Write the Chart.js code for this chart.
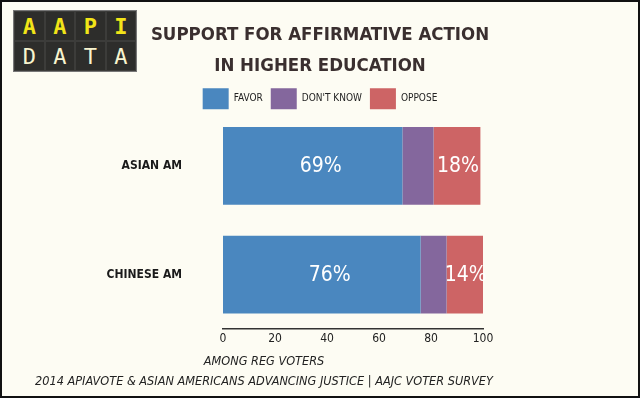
<!DOCTYPE html>
<html>
<head>
<meta charset="utf-8">
<script src="https://cdn.jsdelivr.net/npm/chart.js@4.4.1/dist/chart.umd.min.js"></script>
<style>
  html, body { margin:0; padding:0; background:#fdfcf3; }
  #wrap { position:relative; width:640px; height:398px; }
  #frame { position:absolute; left:0; top:0; width:640px; height:398px; box-sizing:border-box; border:2px solid #111; pointer-events:none; }
  #logo { position:absolute; left:13px; top:10px; width:124px; height:62px; background:#2d2d2b; border:1px solid #777;
          display:grid; grid-template-columns:repeat(4,1fr); grid-template-rows:repeat(2,1fr); box-sizing:border-box; }
  #logo span { display:flex; align-items:center; justify-content:center; border:1px solid #3c3c3a;
               font-family:'DejaVu Sans Mono', monospace; font-size:22px; }
  #logo .y { color:#f2e418; font-weight:bold; }
  #logo .c { color:#f8f4cf; }
</style>
</head>
<body>
<div id="wrap">
  <canvas id="chart" width="640" height="398"></canvas>
  <div id="logo">
    <span class="y">A</span><span class="y">A</span><span class="y">P</span><span class="y">I</span>
    <span class="c">D</span><span class="c">A</span><span class="c">T</span><span class="c">A</span>
  </div>
  <div id="frame"></div>
</div>
<script>
var groups = ['ASIAN AM', 'CHINESE AM'];
var favor = [69, 76];
var dontKnow = [12, 10];
var oppose = [18, 14];
var xTicks = [0, 20, 40, 60, 80, 100];
var titleLines = ['SUPPORT FOR AFFIRMATIVE ACTION', 'IN HIGHER EDUCATION'];
var footLines = ['AMONG REG VOTERS', '2014 APIAVOTE & ASIAN AMERICANS ADVANCING JUSTICE | AAJC VOTER SURVEY'];

const narrow = "'Liberation Sans Narrow', 'DejaVu Sans Condensed', 'Roboto', sans-serif";

// white % labels on favor and oppose segments (nudge = small x shift as in the original)
const labelled = [{ ds: 0, nudge: 8 }, { ds: 2, nudge: 1 }];
const barLabels = {
  id: 'barLabels',
  afterDatasetsDraw(chart){
    var ctx = chart.ctx;
    ctx.save();
    ctx.fillStyle = '#ffffff';
    ctx.font = "21px " + narrow;
    ctx.textAlign = 'center';
    ctx.textBaseline = 'middle';
    labelled.forEach(function(l){
      var meta = chart.getDatasetMeta(l.ds);
      meta.data.forEach(function(bar, i){
        var v = chart.data.datasets[l.ds].data[i];
        ctx.fillText(v + '%', (bar.x + bar.base) / 2 + l.nudge, bar.y + 1);
      });
    });
    ctx.restore();
  }
};

// source lines under the axis (centred left of the canvas middle, like the original)
const footer = {
  id: 'footer',
  afterDraw(chart){
    var ctx = chart.ctx;
    ctx.save();
    ctx.fillStyle = '#222';
    ctx.font = "italic 12.6px " + narrow;
    ctx.textAlign = 'center';
    ctx.textBaseline = 'middle';
    var cy = chart.chartArea.bottom + 33;
    footLines.forEach(function(line, i){
      ctx.fillText(line, 264, cy + i * 20);
    });
    ctx.restore();
  }
};

var ctx = document.getElementById('chart').getContext('2d');
var myChart = new Chart(ctx, {
  type: 'bar',
  data: {
    labels: groups.map(function(g, i){ return i; }),
    datasets: [
      { label: 'FAVOR', data: favor, backgroundColor: '#4a87bf' },
      { label: "DON'T KNOW", data: dontKnow, backgroundColor: '#84679d' },
      { label: 'OPPOSE', data: oppose, backgroundColor: '#cd6465' }
    ]
  },
  options: {
    responsive: false,
    animation: false,
    indexAxis: 'y',
    barPercentage: 0.716,
    categoryPercentage: 1,
    layout: { padding: { left: 0, right: 0, top: 0, bottom: 48.6 } },
    scales: {
      x: {
        stacked: true,
        min: 0, max: 100,
        afterBuildTicks: function(scale){ scale.ticks = xTicks.map(function(v){ return { value: v }; }); },
        grid: { display: false, drawTicks: false },
        border: { display: true, color: '#333', width: 1.5 },
        ticks: { color: '#222', padding: 3, font: { family: narrow, size: 12 } }
      },
      y: {
        type: 'linear',
        stacked: true,
        reverse: true,
        offset: false,
        min: -0.43, max: 1.5,
        afterBuildTicks: function(scale){ scale.ticks = groups.map(function(g, i){ return { value: i }; }); },
        grid: { display: false, drawTicks: false },
        border: { display: false },
        afterFit: function(scale){ scale.width = 223; },
        ticks: {
          color: '#1a1a1a', padding: 41,
          font: { family: narrow, size: 12, weight: 'bold' },
          callback: function(v){ return groups[v]; }
        }
      },
      // empty right-hand axis: only keeps the plot clear of the right margin
      side: {
        type: 'linear',
        position: 'right',
        grid: { display: false, drawTicks: false },
        border: { display: false },
        ticks: { display: false },
        afterFit: function(scale){ scale.width = 157; }
      }
    },
    plugins: {
      tooltip: { enabled: false },
      title: {
        display: true,
        text: titleLines,
        color: '#3a2f2f',
        padding: { top: 20, bottom: -2 },
        font: { family: narrow, size: 18.5, weight: 'bold', lineHeight: 1.68 }
      },
      legend: {
        display: true,
        labels: {
          boxWidth: 26,
          boxHeight: 21,
          padding: 8,
          color: '#222',
          font: { family: narrow, size: 10 }
        }
      }
    }
  },
  plugins: [barLabels, footer]
});
</script>
</body>
</html>
